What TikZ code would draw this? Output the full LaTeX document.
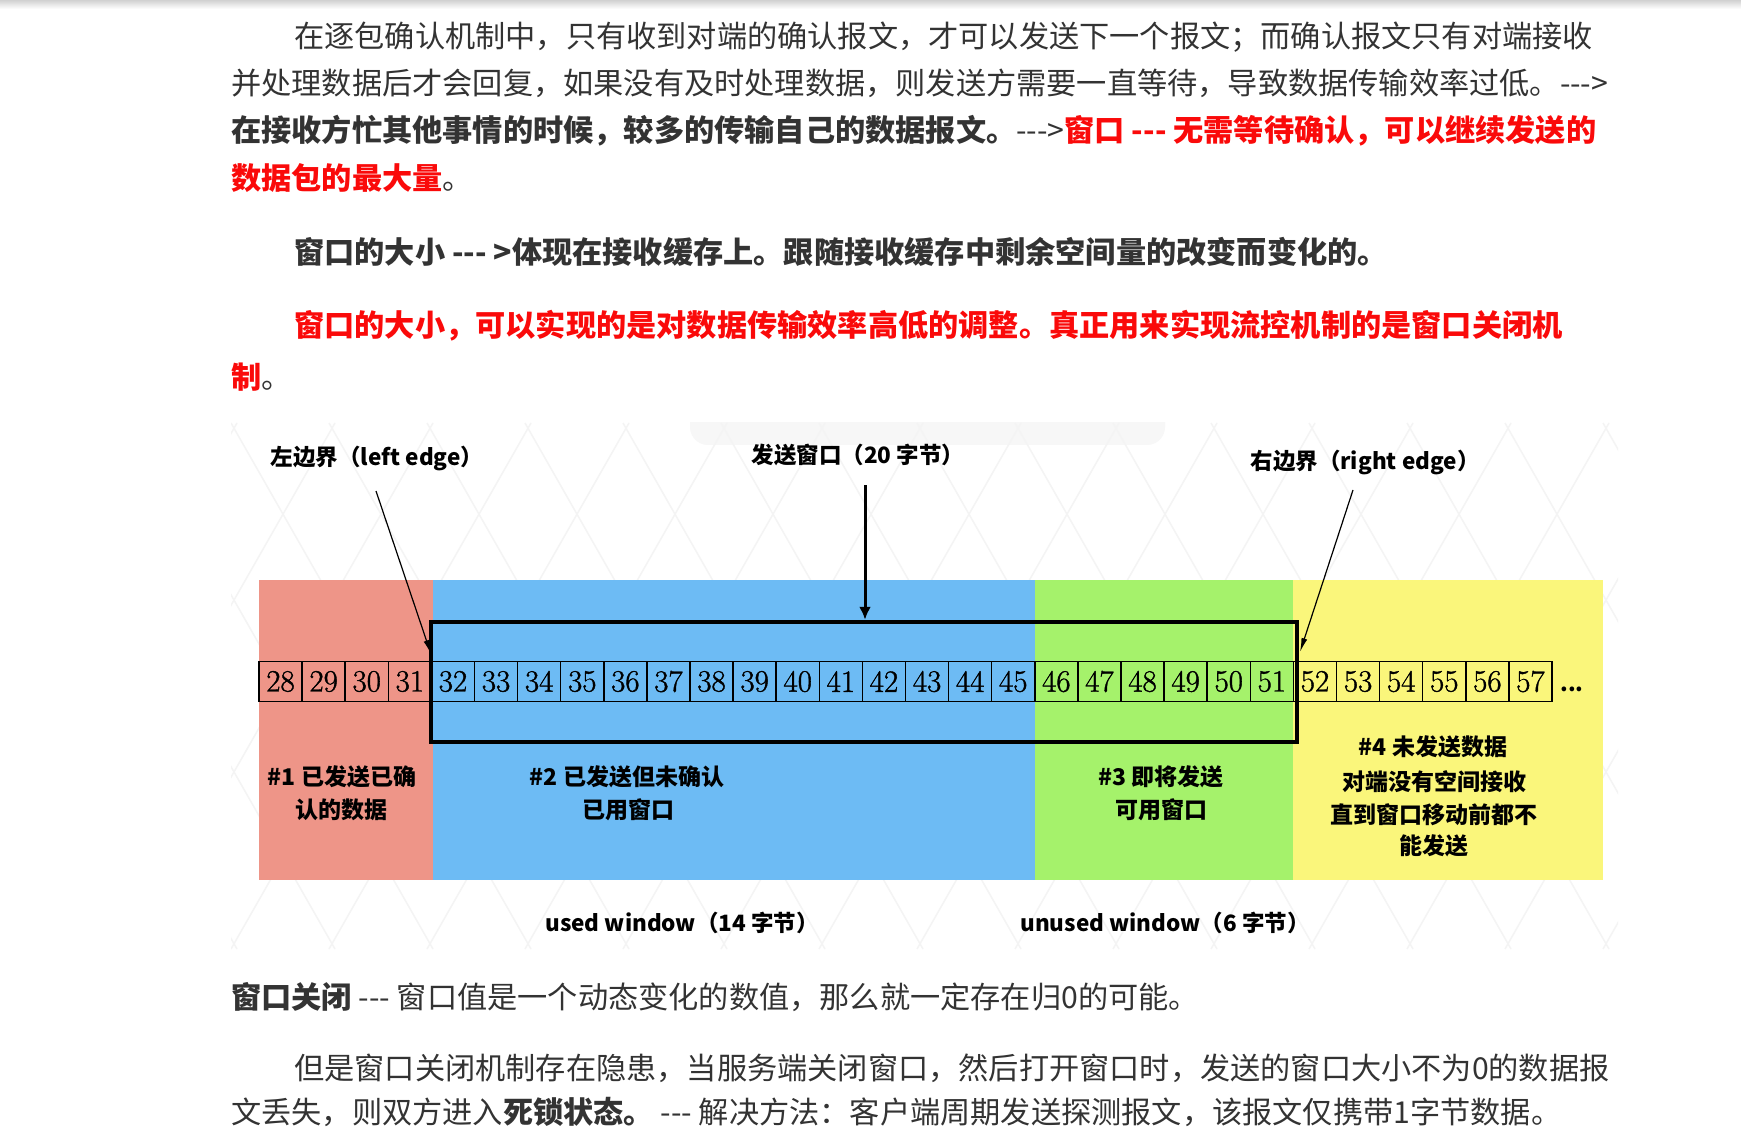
\documentclass[tikz,border=0pt]{standalone}
\usepackage{fontspec}
\newfontfamily\cjk{Noto Sans CJK SC}
\newfontfamily\numfont[FakeBold=1.2]{Latin Modern Roman}
\usetikzlibrary{arrows.meta}
\definecolor{txt}{HTML}{333333}
\definecolor{redtxt}{HTML}{FA0A0A}
\definecolor{bandred}{HTML}{EE9588}
\definecolor{bandblue}{HTML}{6DBBF4}
\definecolor{bandgreen}{HTML}{A5F26B}
\definecolor{bandyellow}{HTML}{FAF67B}
\definecolor{wm}{HTML}{F4F4F4}
\begin{document}
\begin{tikzpicture}[x=1pt,y=-1pt,
  body/.style={anchor=base west, inner sep=0, text=txt, font=\cjk\fontsize{30.2}{36}\selectfont},
  dlabel/.style={anchor=base, inner sep=0, text=black, font=\cjk\bfseries\fontsize{22.5}{26}\selectfont},
  rlabel/.style={anchor=base, inner sep=0, text=black, font=\cjk\bfseries\fontsize{23}{27}\selectfont},
  cell/.style={draw=black, line width=1.5pt, minimum width=43.1pt, minimum height=40pt, inner sep=0pt,
    font=\numfont\fontsize{31}{32}\selectfont},
  winbox/.style={draw=black, line width=4.5pt, minimum width=866pt, minimum height=120pt, inner sep=0pt},
  thinarrow/.style={draw=black, line width=1.2pt, -{Latex[length=14pt,width=6pt]}},
  thickarrow/.style={draw=black, line width=3pt, -{Latex[length=13pt,width=12pt]}}
]
\useasboundingbox (0,0) rectangle (1741,1139);
\fill[white] (0,0) rectangle (1741,1139);
\shade[top color=black!18, bottom color=white] (0,0) rectangle (1741,9);

% ---------- upper paragraph ----------
\node[body] (l1) at (294,48) {在逐包确认机制中，只有收到对端的确认报文，才可以发送下一个报文；而确认报文只有对端接收};
\node[body] (l2) at (231,95) {并处理数据后才会回复，如果没有及时处理数据，则发送方需要一直等待，导致数据传输效率过低。--->};
\node[body] (l3) at (231,142) {{\bfseries 在接收方忙其他事情的时候，较多的传输自己的数据报文。}--->\textcolor{redtxt}{\bfseries 窗口 --- 无需等待确认，可以继续发送的}};
\node[body] (l4) at (231,190) {\textcolor{redtxt}{\bfseries 数据包的最大量}。};
\node[body] (l5) at (294,264) {\bfseries 窗口的大小 --- >体现在接收缓存上。跟随接收缓存中剩余空间量的改变而变化的。};
\node[body] (l6) at (294,337) {\textcolor{redtxt}{\bfseries 窗口的大小，可以实现的是对数据传输效率高低的调整。真正用来实现流控机制的是窗口关闭机}};
\node[body] (l7) at (231,389) {\textcolor{redtxt}{\bfseries 制}。};

% ---------- diagram background ----------
\begin{scope}
  \clip (231,423) rectangle (1618,949);
  \fill[black!3, rounded corners=18pt] (690,400) rectangle (1165,445);
  \foreach \k in {-8,...,16} {
    \draw[wm, line width=1.5pt] (231+98*\k,949) -- ++(300,-526);
    \draw[wm, line width=1.5pt] (231+98*\k,423) -- ++(300,526);
  }
\end{scope}

% colour bands
\fill[bandred]    (259,580) rectangle (433,880);
\fill[bandblue]   (433,580) rectangle (1035,880);
\fill[bandgreen]  (1035,580) rectangle (1293,880);
\fill[bandyellow] (1293,580) rectangle (1603,880);

% cells
\foreach \i [evaluate=\i as \n using {int(28+\i)}] in {0,...,29} {
  \node[cell] (c\n) at ({259+43.1*\i+21.55},681.5) {\n};
}
\node[anchor=base, inner sep=0, font=\cjk\bfseries\fontsize{22}{26}\selectfont] (dots) at (1572,691) {...};

% send window box
\node[winbox] (win) at (864,682) {};

% top labels
\node[dlabel] (le) at (377,465) {左边界（left edge）};
\node[dlabel] (sw) at (858,464) {发送窗口（20 字节）};
\node[dlabel] (re) at (1365,470) {右边界（right edge）};

\coordinate (leS) at (376,491);
\coordinate (leE) at (431,654);
\coordinate (swS) at (865,485);
\coordinate (reS) at (1353,490);
\coordinate (reE) at (1300,652);
\draw[thinarrow] (leS) -- (leE);
\draw[thickarrow] (swS) -- (swS |- win.north);
\draw[thinarrow] (reS) -- (reE);

% region labels
\node[rlabel] (r1a) at (342,785) {\#1 已发送已确};
\node[rlabel] (r1b) at (341,818) {认的数据};
\node[rlabel] (r2a) at (627,785) {\#2 已发送但未确认};
\node[rlabel] (r2b) at (628,818) {已用窗口};
\node[rlabel] (r3a) at (1161,785) {\#3 即将发送};
\node[rlabel] (r3b) at (1161,818) {可用窗口};
\node[rlabel] (r4a) at (1433,755) {\#4 未发送数据};
\node[rlabel] (r4b) at (1434,790) {对端没有空间接收};
\node[rlabel] (r4c) at (1434,823) {直到窗口移动前都不};
\node[rlabel] (r4d) at (1434,854) {能发送};

% bottom labels
\node[dlabel] (used) at (682,931) {used window（14 字节）};
\node[dlabel] (unused) at (1165,931) {unused window（6 字节）};

% ---------- lower paragraph ----------
\node[body] (b1) at (231,1008) {{\bfseries 窗口关闭} --- 窗口值是一个动态变化的数值，那么就一定存在归0的可能。};
\node[body] (b2) at (294,1079) {但是窗口关闭机制存在隐患，当服务端关闭窗口，然后打开窗口时，发送的窗口大小不为0的数据报};
\node[body] (b3) at (231,1123) {文丢失，则双方进入{\bfseries 死锁状态。} --- 解决方法：客户端周期发送探测报文，该报文仅携带1字节数据。};
\end{tikzpicture}
\end{document}
